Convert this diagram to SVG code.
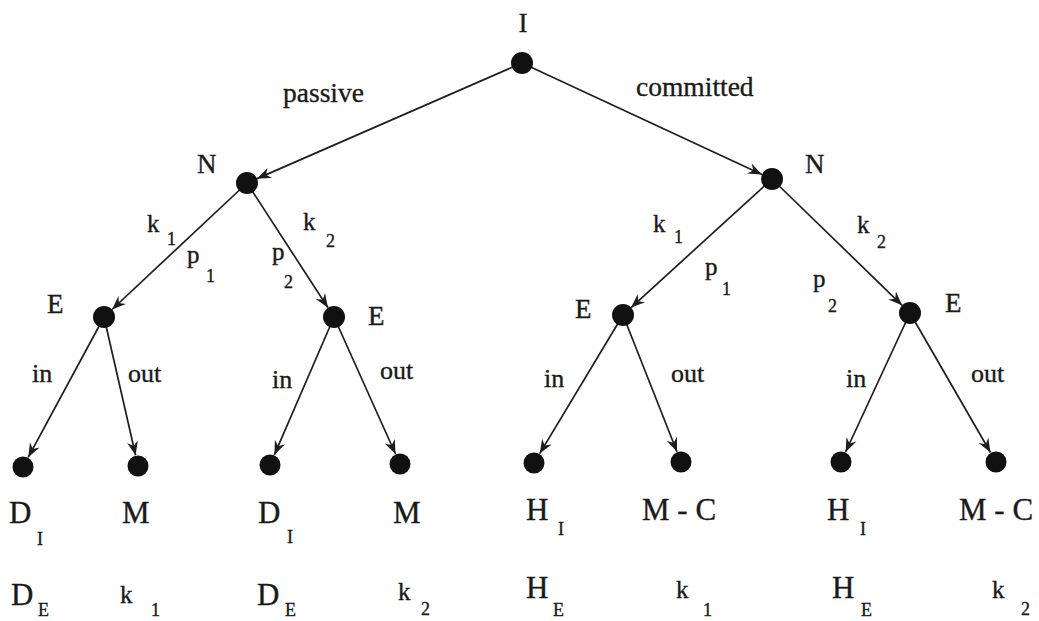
<svg xmlns="http://www.w3.org/2000/svg" width="1039" height="621" viewBox="0 0 1039 621">
<style>
.edge{stroke:#1e1e1e;stroke-width:1.7;fill:none;marker-end:url(#arr)}
.node{fill:#111}
text{font-family:'Liberation Serif','DejaVu Serif',serif;fill:#1a1a1a;stroke:#1a1a1a;stroke-width:0.35}
.nl{font-size:27px}
.w{font-size:27.5px}
.io{font-size:26px}
.kp{font-size:25px}
.sub{font-size:18px}
.big{font-size:31px}
</style>
<defs>
<marker id="arr" markerUnits="userSpaceOnUse" viewBox="-15 -7 16 14" markerWidth="16" markerHeight="14" refX="0" refY="0" orient="auto">
<path d="M0,0 L-14,-5.5 L-9.5,0 L-14,5.5 Z" fill="#1e1e1e"/>
</marker>
</defs>
<rect width="1039" height="621" fill="#fff"/>
<g id="connectors">
<line class="edge" x1="522" y1="63" x2="257.1" y2="178.6"/>
<line class="edge" x1="522" y1="63" x2="762.0" y2="174.4"/>
<line class="edge" x1="247" y1="183" x2="112.0" y2="309.5"/>
<line class="edge" x1="247" y1="183" x2="328.0" y2="307.8"/>
<line class="edge" x1="772" y1="179" x2="631.1" y2="307.6"/>
<line class="edge" x1="772" y1="179" x2="902.1" y2="305.3"/>
<line class="edge" x1="104" y1="317" x2="28.2" y2="457.3"/>
<line class="edge" x1="104" y1="317" x2="135.6" y2="455.3"/>
<line class="edge" x1="334" y1="317" x2="274.4" y2="454.9"/>
<line class="edge" x1="334" y1="317" x2="395.5" y2="454.0"/>
<line class="edge" x1="623" y1="315" x2="539.7" y2="453.6"/>
<line class="edge" x1="623" y1="315" x2="677.0" y2="451.8"/>
<line class="edge" x1="910" y1="313" x2="845.6" y2="452.0"/>
<line class="edge" x1="910" y1="313" x2="990.5" y2="452.5"/>
<text class="w" x="283" y="102">passive</text>
<text class="w" x="636" y="96">committed</text>
<text class="kp" x="147" y="232">k</text><text class="sub" x="167" y="245">1</text>
<text class="kp" x="187" y="263">p</text><text class="sub" x="206" y="282">1</text>
<text class="kp" x="303" y="230">k</text><text class="sub" x="326" y="247">2</text>
<text class="kp" x="272" y="260">p</text><text class="sub" x="284" y="288">2</text>
<text class="kp" x="653" y="232">k</text><text class="sub" x="674" y="243">1</text>
<text class="kp" x="705" y="275">p</text><text class="sub" x="722" y="295">1</text>
<text class="kp" x="857" y="233">k</text><text class="sub" x="877" y="248">2</text>
<text class="kp" x="813" y="287">p</text><text class="sub" x="828" y="312">2</text>
<text class="io" x="32" y="382">in</text>
<text class="io" x="128" y="382">out</text>
<text class="io" x="272" y="388">in</text>
<text class="io" x="380" y="379">out</text>
<text class="io" x="544" y="387">in</text>
<text class="io" x="671" y="382">out</text>
<text class="io" x="846" y="387">in</text>
<text class="io" x="971" y="382">out</text>
</g>
<g id="node-I"><circle class="node" cx="522" cy="63" r="11"/><text class="nl" x="523" y="32" text-anchor="middle">I</text></g>
<g id="node-N-left"><circle class="node" cx="247" cy="183" r="11"/><text class="nl" x="197" y="173">N</text></g>
<g id="node-N-right"><circle class="node" cx="772" cy="179" r="11"/><text class="nl" x="805" y="173">N</text></g>
<g id="node-E1"><circle class="node" cx="104" cy="317" r="11"/><text class="nl" x="47" y="313">E</text></g>
<g id="node-E2"><circle class="node" cx="334" cy="317" r="11"/><text class="nl" x="368" y="325">E</text></g>
<g id="node-E3"><circle class="node" cx="623" cy="315" r="11"/><text class="nl" x="575" y="318">E</text></g>
<g id="node-E4"><circle class="node" cx="910" cy="313" r="11"/><text class="nl" x="945" y="312">E</text></g>
<g id="leaf-1"><circle class="node" cx="23" cy="467" r="10.5"/>
<text class="big" x="9" y="523">D</text><text class="sub" x="37" y="545">I</text>
<text class="big" x="11" y="605">D</text><text class="sub" x="38" y="616">E</text></g>
<g id="leaf-2"><circle class="node" cx="138" cy="466" r="10.5"/>
<text class="big" x="122" y="523">M</text>
<text class="kp" x="120" y="603">k</text><text class="sub" x="151" y="616">1</text></g>
<g id="leaf-3"><circle class="node" cx="270" cy="465" r="10.5"/>
<text class="big" x="258" y="523">D</text><text class="sub" x="287" y="543">I</text>
<text class="big" x="257" y="605">D</text><text class="sub" x="285" y="616">E</text></g>
<g id="leaf-4"><circle class="node" cx="400" cy="464" r="10.5"/>
<text class="big" x="393" y="523">M</text>
<text class="kp" x="398" y="600">k</text><text class="sub" x="421" y="615">2</text></g>
<g id="leaf-5"><circle class="node" cx="534" cy="463" r="10.5"/>
<text class="big" x="526" y="520">H</text><text class="sub" x="558" y="535">I</text>
<text class="big" x="526" y="598">H</text><text class="sub" x="553" y="616">E</text></g>
<g id="leaf-6"><circle class="node" cx="681" cy="462" r="10.5"/>
<text class="big" x="642" y="520">M - C</text>
<text class="kp" x="676" y="598">k</text><text class="sub" x="703" y="616">1</text></g>
<g id="leaf-7"><circle class="node" cx="841" cy="462" r="10.5"/>
<text class="big" x="827" y="520">H</text><text class="sub" x="860" y="535">I</text>
<text class="big" x="832" y="598">H</text><text class="sub" x="861" y="616">E</text></g>
<g id="leaf-8"><circle class="node" cx="996" cy="462" r="10.5"/>
<text class="big" x="959" y="520">M - C</text>
<text class="kp" x="992" y="598">k</text><text class="sub" x="1021" y="615">2</text></g>
</svg>
